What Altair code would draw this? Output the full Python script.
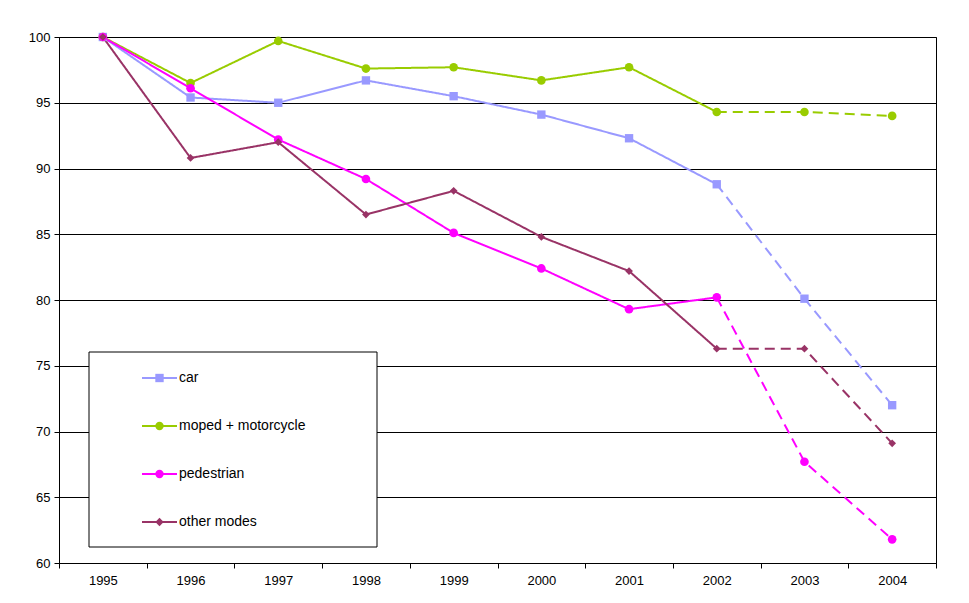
import altair as alt
import pandas as pd

years = [1995, 1996, 1997, 1998, 1999, 2000, 2001, 2002, 2003, 2004]
series = ["car", "moped + motorcycle", "pedestrian", "other modes"]
car = [100, 95.4, 95.0, 96.7, 95.5, 94.1, 92.3, 88.8, 80.1, 72.0]
moped = [100, 96.5, 99.7, 97.6, 97.7, 96.7, 97.7, 94.3, 94.3, 94.0]
pedestrian = [100, 96.1, 92.2, 89.2, 85.1, 82.4, 79.3, 80.2, 67.7, 61.8]
other = [100, 90.8, 92.0, 86.5, 88.3, 84.8, 82.2, 76.3, 76.3, 69.1]
colors = ["#9999FF", "#99CC00", "#FF00FF", "#993366"]
shapes = ["square", "circle", "circle", "diamond"]

rows, pts = [], []
for s, vals in zip(series, [car, moped, pedestrian, other]):
    for y, v in zip(years, vals):
        pts.append({"year": str(y), "v": v, "series": s})
        if y <= 2002:
            rows.append({"year": str(y), "v": v, "series": s, "seg": "actual"})
        if y >= 2002:
            rows.append({"year": str(y), "v": v, "series": s, "seg": "estimate"})
lines_df = pd.DataFrame(rows)
pts_df = pd.DataFrame(pts)

xenc = alt.X("year:O", title=None, scale=alt.Scale(type="band", paddingInner=0, paddingOuter=0),
             axis=alt.Axis(labelAngle=0, tickBand="extent", grid=False, domainColor="black",
                           tickColor="black", labelFontSize=13, labelColor="black", labelPadding=6))
yenc = alt.Y("v:Q", title=None, scale=alt.Scale(domain=[60, 100], nice=False, zero=False),
             axis=alt.Axis(values=list(range(60, 101, 5)), gridColor="black", gridOpacity=1,
                           domainColor="black", tickColor="black", labelFontSize=13,
                           labelColor="black", labelPadding=4))
cscale = alt.Scale(domain=series, range=colors)

lines = alt.Chart(lines_df).mark_line(strokeWidth=2).encode(
    x=xenc, y=yenc,
    stroke=alt.Stroke("series:N", scale=cscale, legend=None),
    detail="seg:N",
    strokeDash=alt.StrokeDash("seg:N", scale=alt.Scale(domain=["actual", "estimate"], range=[[1, 0], [10, 6]]), legend=None),
)

layers = [lines]
for s, c, sh in zip(series, colors, shapes):
    size = 75 if sh == "circle" else (70 if sh == "square" else 60)
    layers.append(alt.Chart(pts_df[pts_df.series == s]).mark_point(
        filled=True, shape=sh, size=size, opacity=1, color=c).encode(x=xenc, y=yenc))

# legend box
leg_df = pd.DataFrame({"series": series})
layers.append(alt.Chart(leg_df.head(1)).mark_rect(fill="white", stroke="black", strokeWidth=1).encode(
    x=alt.value(30), x2=alt.value(318), y=alt.value(315), y2=alt.value(510)))
for i, (s, c, sh) in enumerate(zip(series, colors, shapes)):
    yy = 341 + 48 * i
    one = leg_df[leg_df.series == s]
    layers.append(alt.Chart(one).mark_rule(color=c, strokeWidth=2).encode(
        x=alt.value(83), x2=alt.value(118), y=alt.value(yy)))
    layers.append(alt.Chart(one).mark_point(filled=True, shape=sh, size=70, opacity=1, color=c).encode(
        x=alt.value(100.5), y=alt.value(yy)))
    layers.append(alt.Chart(one).mark_text(align="left", baseline="middle", fontSize=14, color="black").encode(
        x=alt.value(120), y=alt.value(yy), text="series:N"))

chart = alt.layer(*layers).properties(
    width=877, height=526, padding={"left": 20, "top": 23, "right": 5, "bottom": 5}).configure(
    font="Liberation Sans", view=alt.ViewConfig(stroke="black", strokeWidth=1))

chart.save("out.html", embed_options={"renderer": "svg", "actions": False})
